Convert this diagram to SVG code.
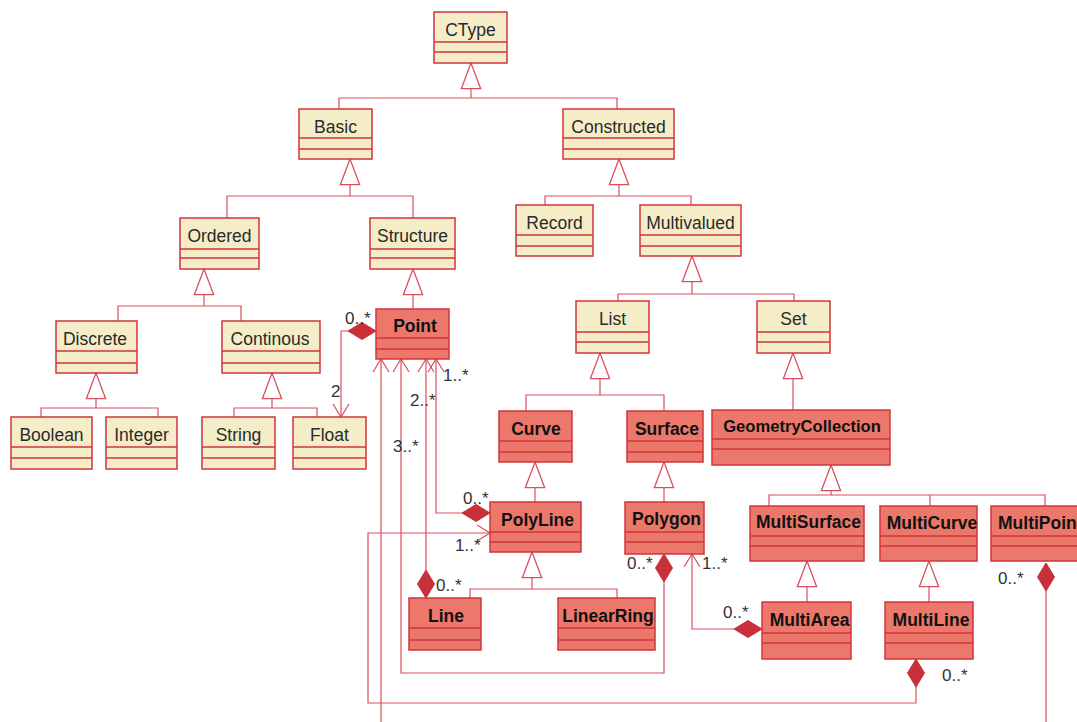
<svg xmlns="http://www.w3.org/2000/svg" width="1077" height="722" viewBox="0 0 1077 722">
<style>
.y rect{fill:#F5EDC8;stroke:#D0343E;stroke-width:1.5}
.r rect{fill:#EC786C;stroke:#D0343E;stroke-width:1.5}
.y line,.r line{stroke:#D0343E;stroke-width:1.3}
.y text{font-family:"Liberation Sans",Arial,sans-serif;font-size:17.5px;fill:#2a2a2a;text-anchor:middle}
.r text{font-family:"Liberation Sans",Arial,sans-serif;font-size:17.5px;font-weight:bold;fill:#111;text-anchor:middle}
.c path,.c line{fill:none;stroke:#D9505C;stroke-width:1.2}
.lbl{font-family:"Liberation Sans",Arial,sans-serif;font-size:17px;fill:#333}
</style>
<defs>
<marker id="tri" markerUnits="userSpaceOnUse" markerWidth="30" markerHeight="24" viewBox="-26 -11 28 22" refX="0" refY="0" orient="auto">
<path d="M0,0 L-24,-9 L-24,9 Z" fill="#fff" stroke="#D9505C" stroke-width="1.2"/>
</marker>
<marker id="arr" markerUnits="userSpaceOnUse" markerWidth="20" markerHeight="20" viewBox="-15 -10 17 20" refX="0" refY="0" orient="auto-start-reverse">
<path d="M-13,-8 L0,0 L-13,8" fill="none" stroke="#D9505C" stroke-width="1.2"/>
</marker>
<marker id="dia" markerUnits="userSpaceOnUse" markerWidth="32" markerHeight="20" viewBox="-30 -10 32 20" refX="0" refY="0" orient="auto">
<path d="M0,0 L-14,-8.5 L-28,0 L-14,8.5 Z" fill="#C8303A" stroke="#C8303A" stroke-width="1"/>
</marker>
</defs>
<rect width="1077" height="722" fill="#fff"/>

<g id="connectors" class="c">
<path d="M471,98 V63" marker-end="url(#tri)"/>
<path d="M339,109 V98 H617 V109"/>
<path d="M350,196 V159" marker-end="url(#tri)"/>
<path d="M227,218 V196 H413 V218"/>
<path d="M619,196 V159" marker-end="url(#tri)"/>
<path d="M545,205 V196 H691 V205"/>
<path d="M204,306 V269" marker-end="url(#tri)"/>
<path d="M118,321 V306 H241 V321"/>
<path d="M413,309 V269" marker-end="url(#tri)"/>
<path d="M692,294 V256" marker-end="url(#tri)"/>
<path d="M618,301 V294 H794 V301"/>
<path d="M96,408 V373" marker-end="url(#tri)"/>
<path d="M41,417 V408 H158 V417"/>
<path d="M272,408 V373" marker-end="url(#tri)"/>
<path d="M234,417 V408 H317 V417"/>
<path d="M600,395 V353" marker-end="url(#tri)"/>
<path d="M526,411 V395 H664 V411"/>
<path d="M793,410 V353" marker-end="url(#tri)"/>
<path d="M535,502 V462" marker-end="url(#tri)"/>
<path d="M664,502 V462" marker-end="url(#tri)"/>
<path d="M831,495 V465" marker-end="url(#tri)"/>
<path d="M769,506 V495 H1045 V506 M930,495 V506"/>
<path d="M532,589 V552" marker-end="url(#tri)"/>
<path d="M470,598 V589 H617 V598"/>
<path d="M807,602 V561" marker-end="url(#tri)"/>
<path d="M929,602 V561" marker-end="url(#tri)"/>
<path d="M341,417 V331 H376" marker-start="url(#arr)" marker-end="url(#dia)"/>
<path d="M436,359 V513 H490" marker-start="url(#arr)" marker-end="url(#dia)"/>
<path d="M426,359 V598" marker-start="url(#arr)" marker-end="url(#dia)"/>
<path d="M401,359 V673 H664 V554" marker-start="url(#arr)" marker-end="url(#dia)"/>
<path d="M381,359 V722" marker-start="url(#arr)"/>
<path d="M490,533 H368 V703 H916 V659" marker-start="url(#arr)" marker-end="url(#dia)"/>
<path d="M692,554 V629 H762" marker-start="url(#arr)" marker-end="url(#dia)"/>
<path d="M1046,722 V563" marker-end="url(#dia)"/>
</g>

<g id="labels">
<text class="lbl" x="345" y="324">0..*</text>
<text class="lbl" x="331" y="397">2</text>
<text class="lbl" x="443" y="381">1..*</text>
<text class="lbl" x="410" y="406">2..*</text>
<text class="lbl" x="393" y="452">3..*</text>
<text class="lbl" x="463" y="504">0..*</text>
<text class="lbl" x="455" y="551">1..*</text>
<text class="lbl" x="436" y="591">0..*</text>
<text class="lbl" x="627" y="569">0..*</text>
<text class="lbl" x="702" y="569">1..*</text>
<text class="lbl" x="723" y="618">0..*</text>
<text class="lbl" x="942" y="681">0..*</text>
<text class="lbl" x="998" y="584">0..*</text>
</g>

<g id="CType" class="y"><rect x="434" y="12" width="73" height="51"/><line x1="434" y1="42" x2="507" y2="42"/><line x1="434" y1="52" x2="507" y2="52"/><text x="470.5" y="36">CType</text></g>
<g id="Basic" class="y"><rect x="299" y="109" width="73" height="50"/><line x1="299" y1="138" x2="372" y2="138"/><line x1="299" y1="149" x2="372" y2="149"/><text x="335.5" y="133">Basic</text></g>
<g id="Constructed" class="y"><rect x="563" y="109" width="111" height="50"/><line x1="563" y1="138" x2="674" y2="138"/><line x1="563" y1="149" x2="674" y2="149"/><text x="618.5" y="133">Constructed</text></g>
<g id="Ordered" class="y"><rect x="180" y="218" width="79" height="51"/><line x1="180" y1="249" x2="259" y2="249"/><line x1="180" y1="258" x2="259" y2="258"/><text x="219.5" y="242">Ordered</text></g>
<g id="Structure" class="y"><rect x="370" y="218" width="85" height="51"/><line x1="370" y1="249" x2="455" y2="249"/><line x1="370" y1="258" x2="455" y2="258"/><text x="412.5" y="242">Structure</text></g>
<g id="Record" class="y"><rect x="516" y="205" width="77" height="51"/><line x1="516" y1="235" x2="593" y2="235"/><line x1="516" y1="246" x2="593" y2="246"/><text x="554.5" y="229">Record</text></g>
<g id="Multivalued" class="y"><rect x="640" y="205" width="101" height="51"/><line x1="640" y1="235" x2="741" y2="235"/><line x1="640" y1="246" x2="741" y2="246"/><text x="690.5" y="229">Multivalued</text></g>
<g id="Discrete" class="y"><rect x="56" y="321" width="81" height="52"/><line x1="56" y1="351" x2="137" y2="351"/><line x1="56" y1="363" x2="137" y2="363"/><text x="95" y="345">Discrete</text></g>
<g id="Continous" class="y"><rect x="222" y="321" width="98" height="52"/><line x1="222" y1="351" x2="320" y2="351"/><line x1="222" y1="363" x2="320" y2="363"/><text x="270" y="345">Continous</text></g>
<g id="List" class="y"><rect x="576" y="301" width="73" height="52"/><line x1="576" y1="332" x2="649" y2="332"/><line x1="576" y1="342" x2="649" y2="342"/><text x="612.5" y="325">List</text></g>
<g id="Set" class="y"><rect x="757" y="301" width="73" height="52"/><line x1="757" y1="332" x2="830" y2="332"/><line x1="757" y1="342" x2="830" y2="342"/><text x="793.5" y="325">Set</text></g>
<g id="Boolean" class="y"><rect x="11" y="417" width="81" height="52"/><line x1="11" y1="447" x2="92" y2="447"/><line x1="11" y1="458" x2="92" y2="458"/><text x="51.5" y="441">Boolean</text></g>
<g id="Integer" class="y"><rect x="106" y="417" width="71" height="52"/><line x1="106" y1="447" x2="177" y2="447"/><line x1="106" y1="458" x2="177" y2="458"/><text x="141.5" y="441">Integer</text></g>
<g id="String" class="y"><rect x="202" y="417" width="73" height="52"/><line x1="202" y1="447" x2="275" y2="447"/><line x1="202" y1="458" x2="275" y2="458"/><text x="238.5" y="441">String</text></g>
<g id="Float" class="y"><rect x="293" y="417" width="73" height="52"/><line x1="293" y1="447" x2="366" y2="447"/><line x1="293" y1="458" x2="366" y2="458"/><text x="329.5" y="441">Float</text></g>

<g id="Point" class="r"><rect x="376" y="309" width="73" height="50"/><line x1="376" y1="338" x2="449" y2="338"/><line x1="376" y1="349" x2="449" y2="349"/><text x="415" y="332">Point</text></g>
<g id="Curve" class="r"><rect x="499" y="411" width="73" height="51"/><line x1="499" y1="441" x2="572" y2="441"/><line x1="499" y1="452" x2="572" y2="452"/><text x="536" y="435">Curve</text></g>
<g id="Surface" class="r"><rect x="627" y="411" width="76" height="51"/><line x1="627" y1="441" x2="703" y2="441"/><line x1="627" y1="452" x2="703" y2="452"/><text x="667" y="435">Surface</text></g>
<g id="GeometryCollection" class="r"><rect x="712" y="410" width="178" height="55"/><line x1="712" y1="439" x2="890" y2="439"/><line x1="712" y1="449" x2="890" y2="449"/><text x="802" y="432" style="font-size:16.6px">GeometryCollection</text></g>
<g id="PolyLine" class="r"><rect x="490" y="502" width="91" height="50"/><line x1="490" y1="532" x2="581" y2="532"/><line x1="490" y1="542" x2="581" y2="542"/><text x="537.5" y="526">PolyLine</text></g>
<g id="Polygon" class="r"><rect x="625" y="502" width="79" height="52"/><line x1="625" y1="532" x2="704" y2="532"/><line x1="625" y1="542" x2="704" y2="542"/><text x="666.5" y="525">Polygon</text></g>
<g id="MultiSurface" class="r"><rect x="750" y="506" width="114" height="55"/><line x1="750" y1="536" x2="864" y2="536"/><line x1="750" y1="546" x2="864" y2="546"/><text x="808.5" y="528">MultiSurface</text></g>
<g id="MultiCurve" class="r"><rect x="880" y="506" width="97" height="55"/><line x1="880" y1="536" x2="977" y2="536"/><line x1="880" y1="546" x2="977" y2="546"/><text x="932" y="529">MultiCurve</text></g>
<g id="MultiPoint" class="r"><rect x="991" y="506" width="100" height="55"/><line x1="991" y1="536" x2="1091" y2="536"/><line x1="991" y1="546" x2="1091" y2="546"/><text x="998" y="529" style="text-anchor:start">MultiPoint</text></g>
<g id="Line" class="r"><rect x="409" y="598" width="72" height="52"/><line x1="409" y1="628" x2="481" y2="628"/><line x1="409" y1="640" x2="481" y2="640"/><text x="446" y="622">Line</text></g>
<g id="LinearRing" class="r"><rect x="558" y="598" width="97" height="52"/><line x1="558" y1="628" x2="655" y2="628"/><line x1="558" y1="640" x2="655" y2="640"/><text x="608" y="622">LinearRing</text></g>
<g id="MultiArea" class="r"><rect x="762" y="602" width="89" height="57"/><line x1="762" y1="633" x2="851" y2="633"/><line x1="762" y1="643" x2="851" y2="643"/><text x="809.5" y="626">MultiArea</text></g>
<g id="MultiLine" class="r"><rect x="885" y="602" width="88" height="57"/><line x1="885" y1="633" x2="973" y2="633"/><line x1="885" y1="643" x2="973" y2="643"/><text x="931" y="626">MultiLine</text></g>
</svg>
